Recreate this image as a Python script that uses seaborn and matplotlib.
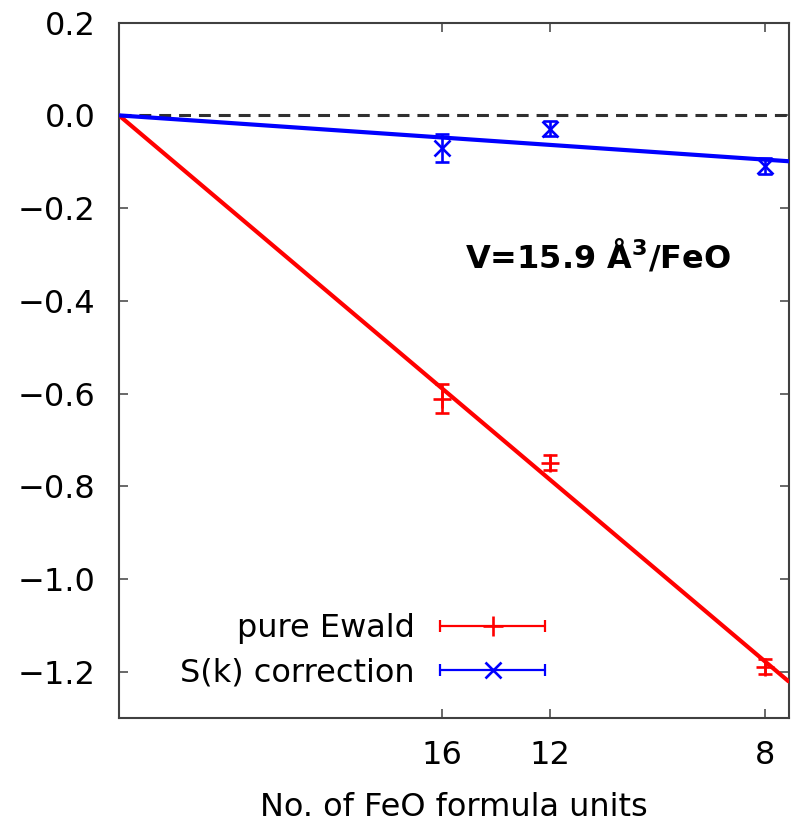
import numpy as np
import pandas as pd
import matplotlib
matplotlib.use("Agg")
import matplotlib.pyplot as plt
import seaborn as sns
from matplotlib.lines import Line2D
from matplotlib.legend_handler import HandlerBase

# ---- data ----
n_units = [16, 12, 8]
tick_labels = ["16", "12", "8"]
ewald = [-0.611, -0.749, -1.189]
ewald_err = [0.031, 0.017, 0.017]
sk_corr = [-0.071, -0.029, -0.109]
sk_err = [0.030, 0.016, 0.018]
slope_ewald = -9.42
slope_sk = -0.763
labels = ["pure Ewald", "S(k) correction"]
annot = r"V=15.9 Å$^{\mathbf{3}}$/FeO"

sns.set_theme(style="ticks")
FONT = "DejaVu Sans"
plt.rcParams["font.family"] = [FONT]
plt.rcParams["mathtext.fontset"] = "dejavusans"
plt.rcParams["text.color"] = "black"
plt.rcParams["axes.labelcolor"] = "black"
plt.rcParams["legend.labelcolor"] = "black"
FS = 23
SPC = "#404040"

x_inv = 1.0 / np.array(n_units, dtype=float)
xmax = 0.1296

fig = plt.figure(figsize=(7.92, 8.25), dpi=100)
ax = fig.add_axes([0.1503, 0.1297, 0.8453, 0.8428])

# zero reference line
ax.axhline(0.0, color="#303030", lw=2.2, ls=(0, (3.9, 2.6)), zorder=1)

# fit lines through the origin
xfit = np.array([0.0, xmax])
fit_df = pd.DataFrame({
    "x": np.concatenate([xfit, xfit]),
    "y": np.concatenate([slope_ewald * xfit, slope_sk * xfit]),
    "series": [labels[0]] * 2 + [labels[1]] * 2,
})
sns.lineplot(data=fit_df, x="x", y="y", hue="series",
             palette={labels[0]: "#ff0000", labels[1]: "#0000ff"},
             lw=3.0, ax=ax, legend=False, zorder=3)

# data points with error bars
ax.errorbar(x_inv, ewald, yerr=ewald_err, fmt="+", color="#ff0000",
            ms=13, mew=1.9, elinewidth=1.9, capsize=5, capthick=1.9, zorder=4)
ax.errorbar(x_inv, sk_corr, yerr=sk_err, fmt="x", color="#0000ff",
            ms=11, mew=1.9, elinewidth=1.9, capsize=5, capthick=1.9, zorder=4)

ax.set_xlim(0, xmax)
ax.set_ylim(-1.3, 0.2)
ax.set_xticks(x_inv)
ax.set_xticklabels(tick_labels)
ax.set_yticks(np.round(np.arange(-1.2, 0.21, 0.2), 1))
ax.yaxis.set_major_formatter(matplotlib.ticker.FuncFormatter(
    lambda v, p: f"{v:.1f}".replace("-", "\u2212") if abs(v) > 1e-9 else "0.0"))

ax.tick_params(axis="both", which="both", direction="in", length=6.5, width=1.1,
               color=SPC, labelsize=FS, labelcolor="black",
               top=True, right=True)
ax.tick_params(axis="x", pad=16)
ax.tick_params(axis="y", pad=17)
for s in ax.spines.values():
    s.set_visible(True)
    s.set_color(SPC)
    s.set_linewidth(1.5)

ax.set_xlabel("No. of FeO formula units", fontsize=FS, labelpad=15, color="black")
ax.set_ylabel("")

ax.text(0.0670, -0.328, annot, fontsize=FS, fontweight="bold", color="black",
        ha="left", va="baseline", zorder=5)


class HandlerHErr(HandlerBase):
    def create_artists(self, legend, orig_handle, xdescent, ydescent,
                       width, height, fontsize, trans):
        color = orig_handle.get_color()
        y = height / 2.0 - ydescent
        x0 = -xdescent
        x1 = x0 + width
        line = Line2D([x0, x1], [y, y], color=color, lw=1.6)
        caps = Line2D([x0, x1], [y, y], ls="none", marker="|", ms=9,
                      mew=1.6, color=color)
        mid = Line2D([(x0 + x1) / 2.0], [y], ls="none",
                     marker=orig_handle.get_marker(),
                     ms=orig_handle.get_markersize(), mew=1.9, color=color)
        for a in (line, caps, mid):
            a.set_transform(trans)
        return [line, caps, mid]


h1 = Line2D([], [], color="#ff0000", marker="+", ms=14)
h2 = Line2D([], [], color="#0000ff", marker="x", ms=12)
fs_px = FS * 100 / 72.0
leg = ax.legend([h1, h2], labels, loc="lower right",
                bbox_to_anchor=(0.637, 0.043), frameon=False, fontsize=FS,
                markerfirst=False, handlelength=105 / fs_px,
                handletextpad=26 / fs_px, labelcolor="black",
                labelspacing=0.42, borderpad=0.0, borderaxespad=0.0,
                handler_map={Line2D: HandlerHErr()})

fig.savefig("out.png", dpi=100)
